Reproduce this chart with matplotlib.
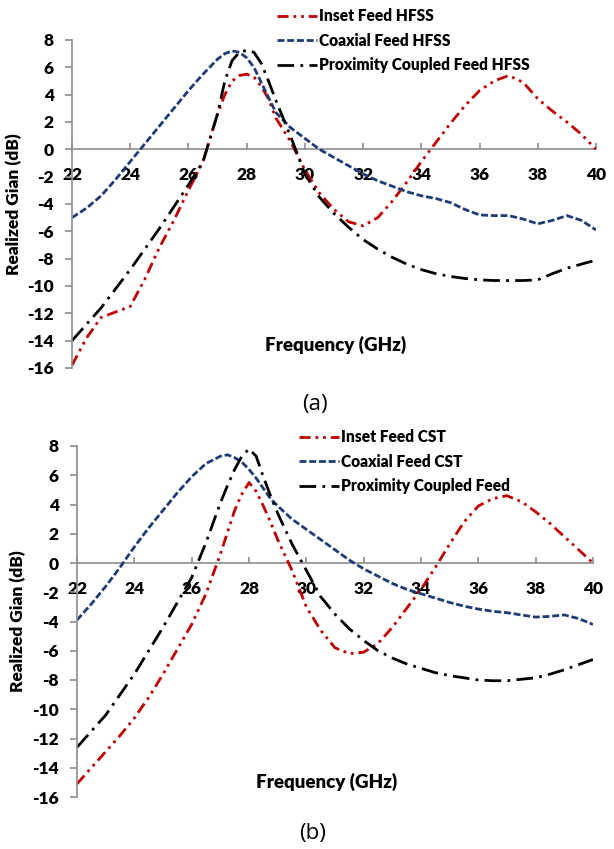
import matplotlib
matplotlib.use("Agg")
import matplotlib.pyplot as plt

plt.rcParams['font.family'] = ['Lato', 'DejaVu Sans']
plt.rcParams['lines.scale_dashes'] = False

# ---------------- data ----------------
freq = [22, 22.5, 23, 23.5, 24, 24.5, 25, 25.5, 26, 26.5, 27, 27.25, 27.5, 27.75,
        28, 28.25, 28.5, 28.75, 29, 29.5, 30, 30.5, 31, 31.5, 32, 32.5, 33, 33.5,
        34, 34.5, 35, 35.5, 36, 36.5, 37, 37.5, 38, 38.5, 39, 39.5, 40]

inset_hfss = [-15.8, -13.8, -12.3, -11.9, -11.5, -9.5, -7.2, -5.2, -3.0, -0.9, 2.6, 4.0,
              5.0, 5.4, 5.5, 5.3, 4.6, 3.7, 2.3, 0.6, -1.5, -3.2, -4.4, -5.3, -5.6, -5.0,
              -3.8, -2.4, -0.9, 0.5, 1.9, 3.2, 4.3, 5.0, 5.4, 4.9, 3.7, 2.8, 2.0, 1.1, 0.0]
coax_hfss = [-5.0, -4.3, -3.4, -2.2, -0.9, 0.4, 1.7, 3.0, 4.3, 5.5, 6.6, 7.0, 7.2, 7.1,
             6.7, 6.0, 4.9, 3.8, 2.7, 1.6, 0.8, 0.0, -0.6, -1.2, -1.8, -2.3, -2.7, -3.1,
             -3.4, -3.6, -3.9, -4.4, -4.8, -4.85, -4.85, -5.1, -5.45, -5.2, -4.85, -5.2, -5.9]
prox_hfss = [-14.0, -12.8, -11.6, -10.2, -8.8, -7.3, -5.8, -4.2, -2.6, -0.9, 2.6, 5.0,
             6.5, 7.1, 7.25, 7.1, 6.3, 5.0, 3.6, 1.0, -1.8, -3.5, -4.7, -5.7, -6.6, -7.3,
             -7.9, -8.4, -8.8, -9.1, -9.3, -9.45, -9.55, -9.6, -9.6, -9.6, -9.55, -9.1,
             -8.7, -8.4, -8.1]

inset_cst = [-15.1, -14.0, -12.9, -11.8, -10.6, -9.2, -7.6, -5.9, -4.2, -2.1, 0.6, 2.1,
             3.6, 4.7, 5.5, 4.9, 3.9, 2.8, 1.6, -0.5, -3.0, -4.6, -5.8, -6.2, -6.1, -5.5,
             -4.4, -3.1, -1.8, -0.3, 1.3, 2.8, 3.9, 4.4, 4.6, 4.2, 3.5, 2.7, 1.8, 0.9, 0.0]
coax_cst = [-3.9, -2.8, -1.6, -0.3, 1.1, 2.4, 3.6, 4.8, 5.9, 6.8, 7.3, 7.4, 7.2, 6.9,
            6.4, 5.8, 5.1, 4.4, 3.9, 3.0, 2.3, 1.6, 0.9, 0.2, -0.4, -0.9, -1.4, -1.8,
            -2.1, -2.4, -2.7, -2.95, -3.15, -3.3, -3.4, -3.55, -3.7, -3.65, -3.55, -3.8, -4.2]
prox_cst = [-12.6, -11.5, -10.4, -9.0, -7.6, -6.0, -4.4, -2.7, -1.0, 1.4, 4.1, 5.3,
            6.4, 7.3, 7.8, 7.3, 5.9, 4.6, 3.4, 1.3, -0.5, -2.3, -3.5, -4.5, -5.3, -6.0,
            -6.5, -6.9, -7.2, -7.5, -7.7, -7.85, -8.0, -8.05, -8.05, -7.95, -7.85, -7.6,
            -7.3, -6.95, -6.6]

xticks = [22, 24, 26, 28, 30, 32, 34, 36, 38, 40]
yticks = [8, 6, 4, 2, 0, -2, -4, -6, -8, -10, -12, -14, -16]

labels_a = ['Inset Feed HFSS', 'Coaxial Feed HFSS', 'Proximity Coupled Feed HFSS']
labels_b = ['Inset Feed CST', 'Coaxial Feed CST', 'Proximity Coupled Feed']

# ---------------- figure ----------------
W, H = 614, 849
fig = plt.figure(figsize=(W / 100, H / 100), dpi=100)

red = '#C00000'
blue = '#1F3B73'
black = '#000000'
gray = '#8C8C8C'
styles = [dict(color=red, dashes=(8, 3.5, 2, 3.5, 2, 3.5)),
          dict(color=blue, dashes=(5, 2)),
          dict(color=black, dashes=(12, 4.5, 2, 4.5))]
BOLD = 'heavy'


def px_rect(l, r, t, b):
    return [l / W, 1 - b / H, (r - l) / W, (b - t) / H]


def make(ax, series, labels, leg_xy, ylab_x):
    lines = []
    for s, st, lb in zip(series, styles, labels):
        ln, = ax.plot(freq, s, lw=2.0, label=lb, **st)
        lines.append(ln)
    ax.set_xlim(22, 40)
    ax.set_ylim(-16, 8)
    ax.set_xticks(xticks)
    ax.set_yticks(yticks)
    ax.set_xticklabels([str(v) for v in xticks])
    ax.set_yticklabels([str(v) for v in yticks])
    for sp in ['top', 'right']:
        ax.spines[sp].set_visible(False)
    ax.spines['bottom'].set_position(('data', 0))
    ax.spines['bottom'].set_zorder(1)
    for sp in ['bottom', 'left']:
        ax.spines[sp].set_color(gray)
        ax.spines[sp].set_linewidth(1.2)
    ax.tick_params(axis='x', direction='in', length=4, width=1.2, color=gray,
                   pad=13, labelsize=12.5)
    ax.tick_params(axis='y', direction='out', length=5, width=1.2, color=gray,
                   pad=8, labelsize=12.5)
    for t in ax.get_xticklabels() + ax.get_yticklabels():
        t.set_fontweight(BOLD)
    ax.set_ylabel('Realized Gian (dB)', fontsize=12.5, fontweight=BOLD)
    ax.yaxis.set_label_coords(ylab_x, 0.5)
    ax.legend(handles=lines, loc='upper left', bbox_to_anchor=leg_xy,
              bbox_transform=fig.transFigure, frameon=False,
              prop=dict(weight=BOLD, size=11.2), handlelength=2.6,
              handletextpad=0.1, labelspacing=0.55, borderpad=0, borderaxespad=0)


ax1 = fig.add_axes(px_rect(72, 596, 40, 368))
make(ax1, [inset_hfss, coax_hfss, prox_hfss], labels_a,
     (277 / W, 1 - 8 / H), -0.095)
ax2 = fig.add_axes(px_rect(77, 593, 446, 797))
make(ax2, [inset_cst, coax_cst, prox_cst], labels_b,
     (299 / W, 1 - 429 / H), -0.099)

fig.text(336 / W, 1 - 345 / H, 'Frequency (GHz)', ha='center', va='center',
         fontsize=13.5, fontweight=BOLD)
fig.text(327 / W, 1 - 782 / H, 'Frequency (GHz)', ha='center', va='center',
         fontsize=13.5, fontweight=BOLD)
fig.text(315 / W, 1 - 404 / H, '(a)', ha='center', va='center',
         fontsize=16, family='Open Sans')
fig.text(313 / W, 1 - 833 / H, '(b)', ha='center', va='center',
         fontsize=16, family='Open Sans')

fig.savefig('out.png', dpi=100)
